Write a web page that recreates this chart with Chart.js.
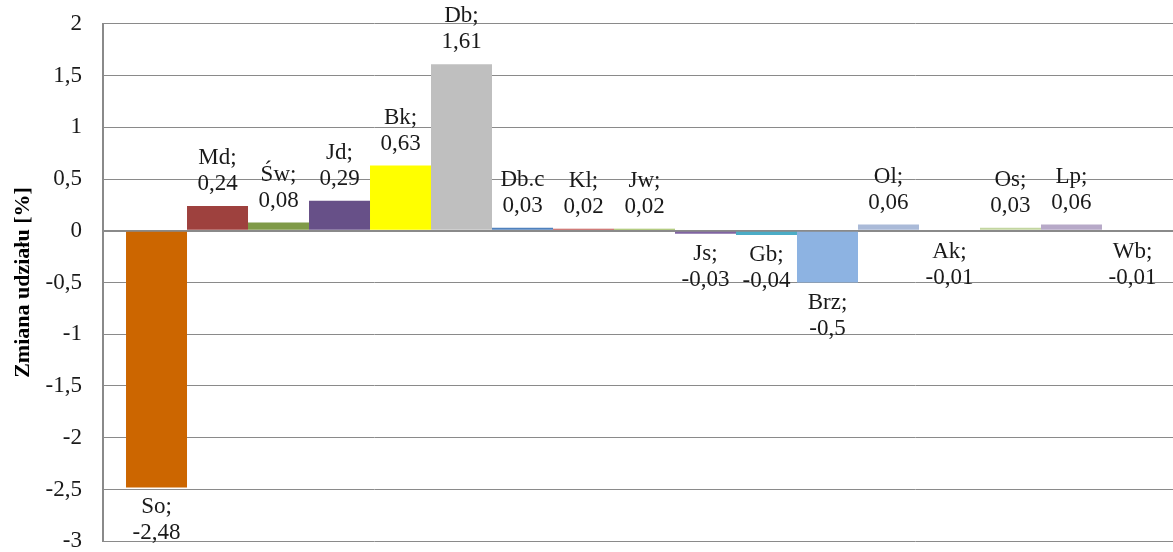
<!DOCTYPE html>
<html>
<head>
<meta charset="utf-8">
<script src="https://cdn.jsdelivr.net/npm/chart.js@4"></script>
<style>
  html, body { margin: 0; padding: 0; background: #fff; overflow: hidden; }
  #wrap { width: 1173px; height: 552px; overflow: hidden; position: relative; }
  #chart { position: absolute; left: 0; top: -11px; }
</style>
</head>
<body>
<div id="wrap"><canvas id="chart" width="1186" height="587"></canvas></div>
<script>
// categories (one bar each)
const names = ['So', 'Md', 'Św', 'Jd', 'Bk', 'Db', 'Db.c', 'Kl', 'Jw', 'Js', 'Gb', 'Brz', 'Ol', 'Ak', 'Os', 'Lp', 'Wb'];
const labelHeads = ['So;', 'Md;', 'Św;', 'Jd;', 'Bk;', 'Db;', 'Db.c', 'Kl;', 'Jw;', 'Js;', 'Gb;', 'Brz;', 'Ol;', 'Ak;', 'Os;', 'Lp;', 'Wb;'];
const changes = [-2.48, 0.24, 0.08, 0.29, 0.63, 1.61, 0.03, 0.02, 0.02, -0.03, -0.04, -0.5, 0.06, -0.01, 0.03, 0.06, -0.01];
const colors = ['#CC6600', '#9E413E', '#7F9A48', '#675088', '#FFFF00', '#BFBFBF', '#4F81BD', '#C0504D', '#9BBB59',
                '#8064A2', '#4BACC6', '#8DB3E2', '#AABAD8', '#E6AEAD', '#C3D6A0', '#B7A9C8', '#AAD6E6'];
const yTicks = [2, 1.5, 1, 0.5, 0, -0.5, -1, -1.5, -2, -2.5, -3];

const fmt = v => String(v).replace('.', ',');
const FONT = '"Liberation Serif", "DejaVu Serif", serif';

// value labels: "Name;" over the value, above positive bars and below negative ones
const barLabels = {
  id: 'barLabels',
  afterDatasetsDraw(chart) {
    const ctx = chart.ctx;
    ctx.save();
    ctx.font = '23px ' + FONT;
    ctx.fillStyle = '#1a1a1a';
    ctx.textAlign = 'center';
    ctx.textBaseline = 'middle';
    chart.data.datasets.forEach((ds, i) => {
      const el = chart.getDatasetMeta(i).data[0];
      const v = ds.data[0];
      let y1, y2;
      if (v >= 0) {
        y2 = el.y - 22;
        y1 = y2 - 26;
      } else {
        y1 = el.y + 20;
        y2 = y1 + 26;
      }
      ctx.fillText(labelHeads[i], el.x, y1);
      ctx.fillText(fmt(v), el.x, y2);
    });
    ctx.restore();
  }
};

const ctx = document.getElementById('chart').getContext('2d');
const chart = new Chart(ctx, {
  type: 'bar',
  data: {
    labels: [''],
    datasets: names.map((n, i) => ({
      label: n,
      data: [changes[i]],
      backgroundColor: colors[i],
      borderWidth: 0
    }))
  },
  options: {
    responsive: false,
    animation: false,
    barPercentage: 1,
    categoryPercentage: 0.9575,
    layout: { padding: { top: 7, bottom: 11, left: 0, right: 0 } },
    scales: {
      x: {
        display: false
      },
      y: {
        min: -3,
        max: 2,
        afterBuildTicks: s => { s.ticks = yTicks.map(v => ({ value: v })); },
        afterFit: s => { s.width = 103; },
        ticks: {
          callback: v => fmt(v),
          color: '#1a1a1a',
          font: { family: FONT, size: 23 },
          padding: 21
        },
        grid: {
          color: '#8a8a8a',
          lineWidth: c => (c.tick && c.tick.value === 0 ? 2 : 1),
          drawTicks: false
        },
        border: { display: true, color: '#8a8a8a', width: 2 },
        title: {
          display: true,
          text: 'Zmiana udziału [%]',
          color: '#000',
          font: { family: FONT, size: 22, weight: 'bold' },
          padding: { top: 10, bottom: 0 }
        }
      }
    },
    plugins: {
      legend: { display: false },
      tooltip: { enabled: false }
    }
  },
  plugins: [barLabels]
});
</script>
</body>
</html>
